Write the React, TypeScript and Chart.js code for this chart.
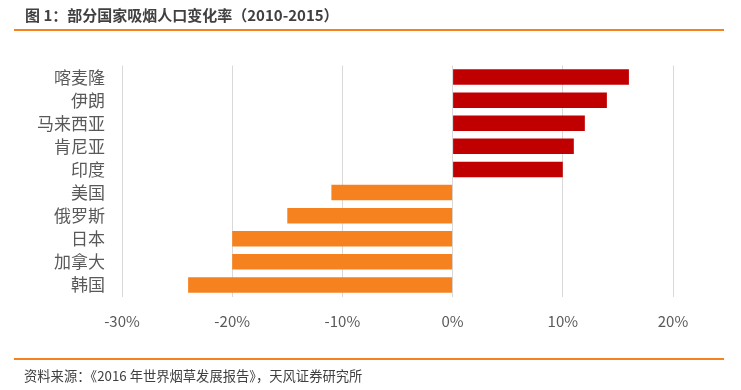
import React, { useEffect, useRef } from "react";
import { Chart, registerables } from "chart.js";

Chart.register(...registerables);

const categories = ["喀麦隆", "伊朗", "马来西亚", "肯尼亚", "印度", "美国", "俄罗斯", "日本", "加拿大", "韩国"];
const changeRates = [16, 14, 12, 11, 10, -11, -15, -20, -20, -24];
const xMin = -30;
const xMax = 20;
const xStep = 10;
const titleText = "图 1：部分国家吸烟人口变化率（2010-2015）";
const sourceText = "资料来源：《2016 年世界烟草发展报告》，天风证券研究所";

const RED = "#C00000";
const ORANGE = "#F5821F";
const FONT = '"Noto Sans CJK SC", "Noto Sans", sans-serif';

export default function App() {
  const canvasRef = useRef<HTMLCanvasElement | null>(null);

  useEffect(() => {
    const canvas = canvasRef.current;
    if (!canvas) return;
    const chart = new Chart(canvas, {
      type: "bar",
      data: {
        labels: categories,
        datasets: [
          {
            data: changeRates,
            backgroundColor: changeRates.map((v) => (v >= 0 ? RED : ORANGE)),
            borderWidth: 0,
            barPercentage: 0.67,
            categoryPercentage: 1,
          },
        ],
      },
      options: {
        indexAxis: "y",
        responsive: false,
        animation: false,
        devicePixelRatio: 1,
        layout: { padding: { left: 0, top: 65.5, right: 68, bottom: 0 } },
        plugins: {
          legend: { display: false },
          tooltip: { enabled: false },
          title: { display: false },
        },
        scales: {
          x: {
            type: "linear",
            min: xMin,
            max: xMax,
            ticks: {
              stepSize: xStep,
              callback: (v: any) => `${v}%`,
              color: "#595959",
              font: { family: FONT, size: 15 },
              padding: 16,
            },
            grid: { color: "#d9d9d9", lineWidth: 1, drawTicks: false },
            border: { display: false },
            afterFit: (scale: any) => {
              scale.height = 390 - 296.5;
            },
          },
          y: {
            ticks: {
              color: "#595959",
              font: { family: FONT, size: 17 },
              padding: 17,
              autoSkip: false,
            },
            grid: { display: false, drawTicks: false },
            border: { display: false },
            afterFit: (scale: any) => {
              scale.width = 122;
            },
          },
        },
      },
    });
    return () => chart.destroy();
  }, []);

  return (
    <div style={{ position: "absolute", left: 0, top: 0, width: 741, height: 390, background: "#fff", overflow: "hidden" }}>
      <canvas ref={canvasRef} width={741} height={390} style={{ position: "absolute", left: 0, top: 0 }} />
      <div
        style={{
          position: "absolute",
          left: 25,
          top: 7,
          fontFamily: FONT,
          fontWeight: "bold",
          fontSize: 15,
          lineHeight: "16px",
          color: "#404040",
          whiteSpace: "nowrap",
        }}
      >
        {titleText}
      </div>
      <div style={{ position: "absolute", left: 14, top: 29, width: 710, height: 2, background: ORANGE }} />
      <div style={{ position: "absolute", left: 14, top: 358, width: 710, height: 2, background: ORANGE }} />
      <div
        style={{
          position: "absolute",
          left: 24,
          top: 368,
          fontFamily: FONT,
          fontSize: 13.3,
          lineHeight: "16px",
          color: "#404040",
          whiteSpace: "nowrap",
        }}
      >
        {sourceText}
      </div>
    </div>
  );
}
